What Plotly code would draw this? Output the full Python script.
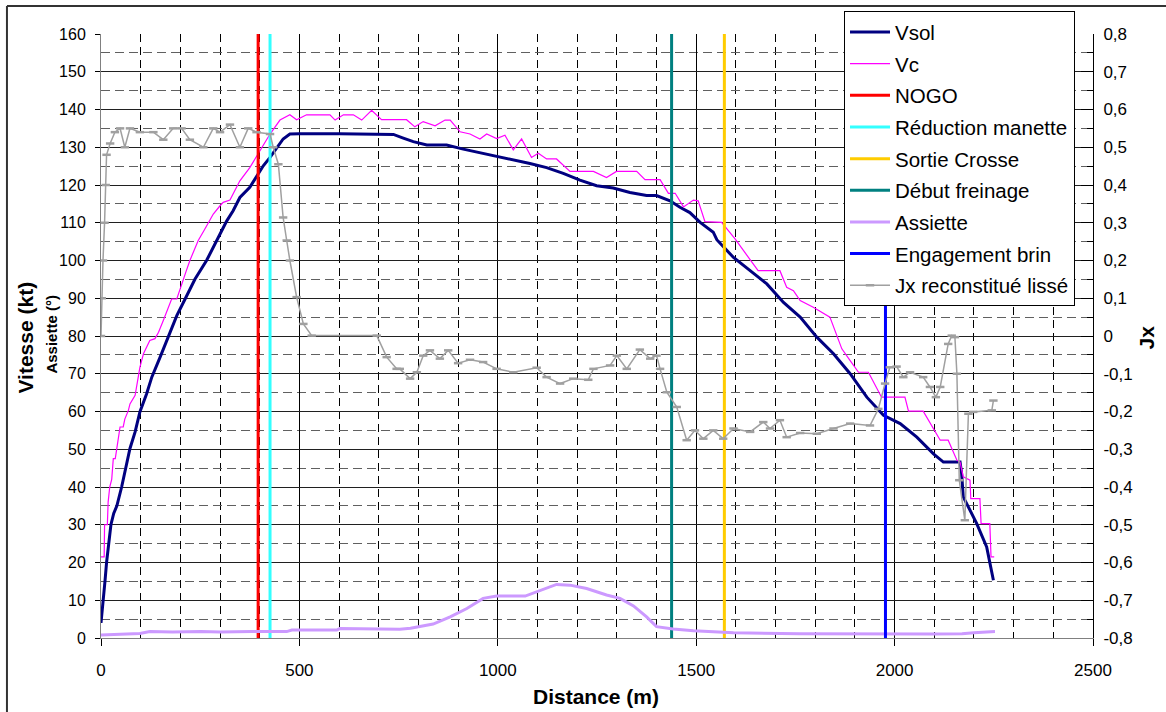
import plotly.graph_objects as go

# ---------------- data ----------------
vsol_d = [0, 4, 6, 10, 14, 19, 25, 32, 40, 52, 62, 73, 86, 98, 115, 128, 149, 170, 191, 212, 237, 266,
          292, 317, 333, 350, 375, 392, 409, 426, 443, 459, 476, 500, 600, 720, 737, 760, 787, 821, 871,
          913, 955, 997, 1039, 1081, 1123, 1165, 1207, 1249, 1291, 1333, 1375, 1400, 1434, 1459, 1484,
          1510, 1543, 1552, 1594, 1636, 1678, 1720, 1762, 1804, 1846, 1888, 1930, 1972, 2014, 2056, 2098,
          2123, 2165, 2169, 2173, 2207, 2232, 2249]
vsol_v = [4, 8, 10, 15, 20, 25, 30, 33, 35, 40, 45, 50.2, 54.6, 59.9, 64.7, 69.1, 74.4, 79.7, 85.4, 89.8,
          95.1, 100, 105.3, 110.5, 113.2, 116.7, 119.4, 122.4, 125.1, 127.3, 129.9, 132.2, 133.5, 133.6,
          133.6, 133.6, 133.4, 132.5, 131.5, 130.6, 130.6, 129.5, 128.6, 127.7, 126.6, 125.7, 124.6, 123.1,
          121.3, 119.8, 119.2, 118, 117.2, 117.2, 115.8, 114.1, 112.7, 110.1, 107.5, 105.5, 100.8, 97.3,
          93.8, 88.9, 85, 79.7, 75.3, 70, 63.8, 59, 56.8, 53.2, 48.8, 46.6, 46.6, 43.5, 37.4, 30.3, 24.1, 15.3]

vc_d = [0, 8, 9, 16, 18, 22, 27, 31, 36, 40, 48, 56, 60, 69, 73, 86, 92, 98, 107, 115, 123, 136, 145, 157,
        168, 178, 191, 203, 214, 224, 245, 260, 283, 300, 308, 325, 338, 350, 375, 401, 426, 451, 476, 493,
        518, 577, 590, 611, 636, 657, 682, 707, 770, 791, 812, 842, 867, 880, 905, 930, 955, 972, 997, 1018,
        1039, 1060, 1085, 1102, 1123, 1148, 1182, 1241, 1274, 1299, 1350, 1371, 1409, 1430, 1447, 1468,
        1493, 1505, 1522, 1564, 1598, 1656, 1711, 1728, 1745, 1762, 1795, 1837, 1867, 1888, 1909, 1934,
        1967, 2026, 2035, 2072, 2115, 2135, 2157, 2165, 2173, 2190, 2192, 2215, 2218, 2240, 2243, 2251]
vc_v = [21.5, 21.5, 30, 30, 36, 40, 42, 47.5, 47.5, 50, 55.9, 55.9, 58, 60.3, 62, 64.3, 68, 71.7, 75.3, 77,
        78.8, 79.3, 81, 84.1, 87, 89.8, 89.8, 93.8, 97, 100, 105.3, 108, 112.3, 114.5, 115.4, 116, 118.5,
        121.1, 124.6, 129, 133.5, 137.2, 138.6, 137.3, 138.6, 138.6, 137.2, 138.6, 138.6, 137.2, 139.8,
        137.3, 137.3, 135.4, 136.8, 135.7, 137.2, 137.2, 134.1, 133.5, 132.2, 133.5, 132.3, 133.2, 129.3,
        132.2, 127.3, 128.4, 126.9, 126.9, 123.6, 123.6, 122, 123.6, 123.6, 121.4, 121.4, 117.8, 117.8,
        114.2, 116, 115.8, 110.3, 110.1, 105.7, 97.3, 97.3, 92.9, 92, 89.4, 87.6, 85, 76.6, 73.5, 70.4,
        70.4, 63.8, 63.8, 60.1, 60.1, 52.4, 52.4, 47.1, 46.6, 42.7, 41.8, 36.9, 36.9, 30.3, 30.3, 21.5, 21.5]

assiette_d = [0, 50, 98, 123, 180, 252, 300, 380, 468, 481, 594, 602, 753, 780, 804, 837, 880, 922, 963,
              997, 1069, 1098, 1148, 1182, 1224, 1274, 1308, 1342, 1375, 1400, 1442, 1493, 1594, 1762,
              1900, 2100, 2170, 2200, 2253]
assiette_v = [0.8, 1.0, 1.2, 1.7, 1.6, 1.7, 1.6, 1.7, 1.7, 2.1, 2.1, 2.5, 2.3, 2.6, 3.0, 3.7, 5.6, 7.8,
              10.5, 11.1, 11.1, 12.2, 14.2, 14.0, 13.1, 11.4, 10.5, 8.5, 5.6, 3.0, 2.4, 1.9, 1.4, 1.1,
              1.0, 1.05, 1.1, 1.4, 1.7]

jx_d = [0, 2, 5, 9, 12, 14, 23, 35, 48, 60, 73, 98, 132, 157, 182, 203, 224, 258, 283, 300, 325, 350, 371,
        392, 426, 434, 447, 459, 468, 476, 493, 510, 531, 695, 720, 745, 753, 779, 796, 812, 829, 854, 875,
        900, 930, 963, 997, 1039, 1098, 1123, 1157, 1190, 1228, 1241, 1283, 1300, 1325, 1358, 1384, 1400,
        1409, 1426, 1451, 1476, 1497, 1518, 1543, 1568, 1594, 1636, 1669, 1686, 1711, 1728, 1762, 1804,
        1846, 1888, 1938, 1959, 1976, 1988, 2005, 2022, 2039, 2072, 2089, 2104, 2115, 2135, 2144, 2152,
        2157, 2163, 2177, 2186, 2198, 2245, 2249]
jx_v = [0.0, 0.1, 0.2, 0.3, 0.4, 0.48, 0.51, 0.54, 0.55, 0.50, 0.55, 0.54, 0.54, 0.52, 0.55, 0.55, 0.52,
        0.50, 0.55, 0.54, 0.56, 0.50, 0.55, 0.54, 0.535, 0.50, 0.455, 0.314, 0.253, 0.20, 0.103, 0.032,
        0.001, 0.001, -0.056, -0.087, -0.087, -0.113, -0.096, -0.052, -0.038, -0.06, -0.038, -0.072,
        -0.063, -0.069, -0.087, -0.096, -0.084, -0.109, -0.126, -0.113, -0.116, -0.087, -0.078, -0.052,
        -0.087, -0.036, -0.06, -0.052, -0.087, -0.149, -0.188, -0.276, -0.25, -0.272, -0.25, -0.272,
        -0.245, -0.254, -0.228, -0.245, -0.223, -0.268, -0.257, -0.259, -0.245, -0.232, -0.237, -0.193,
        -0.126, -0.083, -0.081, -0.109, -0.096, -0.109, -0.135, -0.162, -0.135, -0.021, 0.001, -0.003,
        -0.10, -0.382, -0.488, -0.206, -0.201, -0.197, -0.171]

event_names = ["NOGO", "Réduction manette", "Sortie Crosse", "Début freinage", "Engagement brin"]
event_d = [396, 426, 1571, 1438, 1977]
event_colors = ["#FF0000", "#33FFFF", "#FFCC00", "#008080", "#0000FF"]

jx_tickvals = [0.8, 0.7, 0.6, 0.5, 0.4, 0.3, 0.2, 0.1, 0, -0.1, -0.2, -0.3, -0.4, -0.5, -0.6, -0.7, -0.8]
jx_ticktext = ["0,8", "0,7", "0,6", "0,5", "0,4", "0,3", "0,2", "0,1", "0", "-0,1", "-0,2", "-0,3",
               "-0,4", "-0,5", "-0,6", "-0,7", "-0,8"]

FONT = "Liberation Sans, Arial, sans-serif"

# ---------------- figure ----------------
fig = go.Figure()

def add(tr, grp):
    tr.legendgroup = grp
    fig.add_trace(tr)

add(go.Scatter(x=vsol_d, y=vsol_v, name="Vsol", mode="lines",
               line=dict(color="#000080", width=3)), "g1")
add(go.Scatter(x=vc_d, y=vc_v, name="Vc", mode="lines",
               line=dict(color="#FF00FF", width=1.2)), "g2")

# event lines in legend order: NOGO, Réduction manette, Sortie Crosse, Début freinage
for i in range(4):
    add(go.Scatter(x=[event_d[i], event_d[i]], y=[0, 160], name=event_names[i], mode="lines",
                   line=dict(color=event_colors[i], width=3)), "g%d" % (i + 3))

add(go.Scatter(x=assiette_d, y=assiette_v, name="Assiette", mode="lines",
               line=dict(color="#CC99FF", width=3)), "g7")
add(go.Scatter(x=[event_d[4], event_d[4]], y=[0, 160], name=event_names[4], mode="lines",
               line=dict(color=event_colors[4], width=3)), "g8")
add(go.Scatter(x=jx_d, y=jx_v, name="Jx reconstitué lissé", mode="lines+markers", yaxis="y2",
               line=dict(color="#A0A0A0", width=1.5),
               marker=dict(symbol="line-ew", size=6, color="#A0A0A0",
                           line=dict(color="#A0A0A0", width=2.5))), "g9")

fig.update_layout(
    width=1166, height=712,
    margin=dict(l=101, r=73, t=33, b=74),
    paper_bgcolor="white", plot_bgcolor="white",
    font=dict(family=FONT, color="#000000", size=16),
    showlegend=True,
    legend=dict(x=0.749, y=1.036, xanchor="left", yanchor="top",
                bgcolor="white", bordercolor="#000000", borderwidth=1,
                font=dict(size=20.5, family=FONT, color="#000000"),
                traceorder="grouped", tracegroupgap=2, itemwidth=40),
    xaxis=dict(range=[0, 2500], dtick=500, tick0=0, showgrid=True, gridcolor="#000000", gridwidth=1,
               showline=True, linecolor="#808080", linewidth=1, ticks="outside", ticklen=7,
               tickcolor="#000000", zeroline=False, tickfont=dict(size=17),
               ticklabelstandoff=10,
               minor=dict(dtick=100, tick0=0, showgrid=True, gridcolor="#000000", gridwidth=1,
                          griddash="8px,5px")),
    yaxis=dict(range=[0, 160], dtick=10, tick0=0, showgrid=True, gridcolor="#202020", gridwidth=1,
               showline=True, linecolor="#808080", linewidth=1, ticks="outside", ticklen=5,
               tickcolor="#000000", zeroline=False, tickfont=dict(size=16), ticklabelstandoff=6,
               minor=dict(dtick=5, tick0=0, showgrid=True, gridcolor="#606060", gridwidth=1,
                          griddash="9px,5px")),
    yaxis2=dict(range=[-0.8, 0.8], overlaying="y", side="right", showgrid=False, zeroline=False,
                tickvals=jx_tickvals, ticktext=jx_ticktext, tickfont=dict(size=17),
                showline=True, linecolor="#000000", linewidth=1, ticks="inside", ticklen=12,
                tickcolor="#000000", ticklabelstandoff=6,
                minor=dict(dtick=0.05, tick0=0, ticks="inside", ticklen=6, tickcolor="#000000")),
    annotations=[
        dict(text="<b>Distance (m)</b>", xref="paper", yref="paper", x=0.499, y=-0.0975,
             xanchor="center", yanchor="middle", showarrow=False, font=dict(size=21, family=FONT)),
        dict(text="<b>Vitesse (kt)</b>", xref="paper", yref="paper", x=-0.0766, y=0.4975,
             xanchor="center", yanchor="middle", textangle=-90, showarrow=False,
             font=dict(size=21, family=FONT)),
        dict(text="<b>Assiette (°)</b>", xref="paper", yref="paper", x=-0.0494, y=0.504,
             xanchor="center", yanchor="middle", textangle=-90, showarrow=False,
             font=dict(size=15, family=FONT)),
        dict(text="<b>Jx</b>", xref="paper", yref="paper", x=1.0544, y=0.4975,
             xanchor="center", yanchor="middle", textangle=-90, showarrow=False,
             font=dict(size=21, family=FONT)),
    ],
    shapes=[
        dict(type="line", xref="paper", yref="paper", x0=-0.0948, x1=1.2, y0=1.0463, y1=1.0463,
             line=dict(color="#333333", width=2)),
        dict(type="line", xref="paper", yref="paper", x0=-0.0948, x1=-0.0948, y0=1.0463, y1=-0.2,
             line=dict(color="#333333", width=2)),
    ],
)

fig.write_html("out.html", config={"displayModeBar": False},
               post_script="document.body.style.margin='0px';document.body.style.overflow='hidden';")
